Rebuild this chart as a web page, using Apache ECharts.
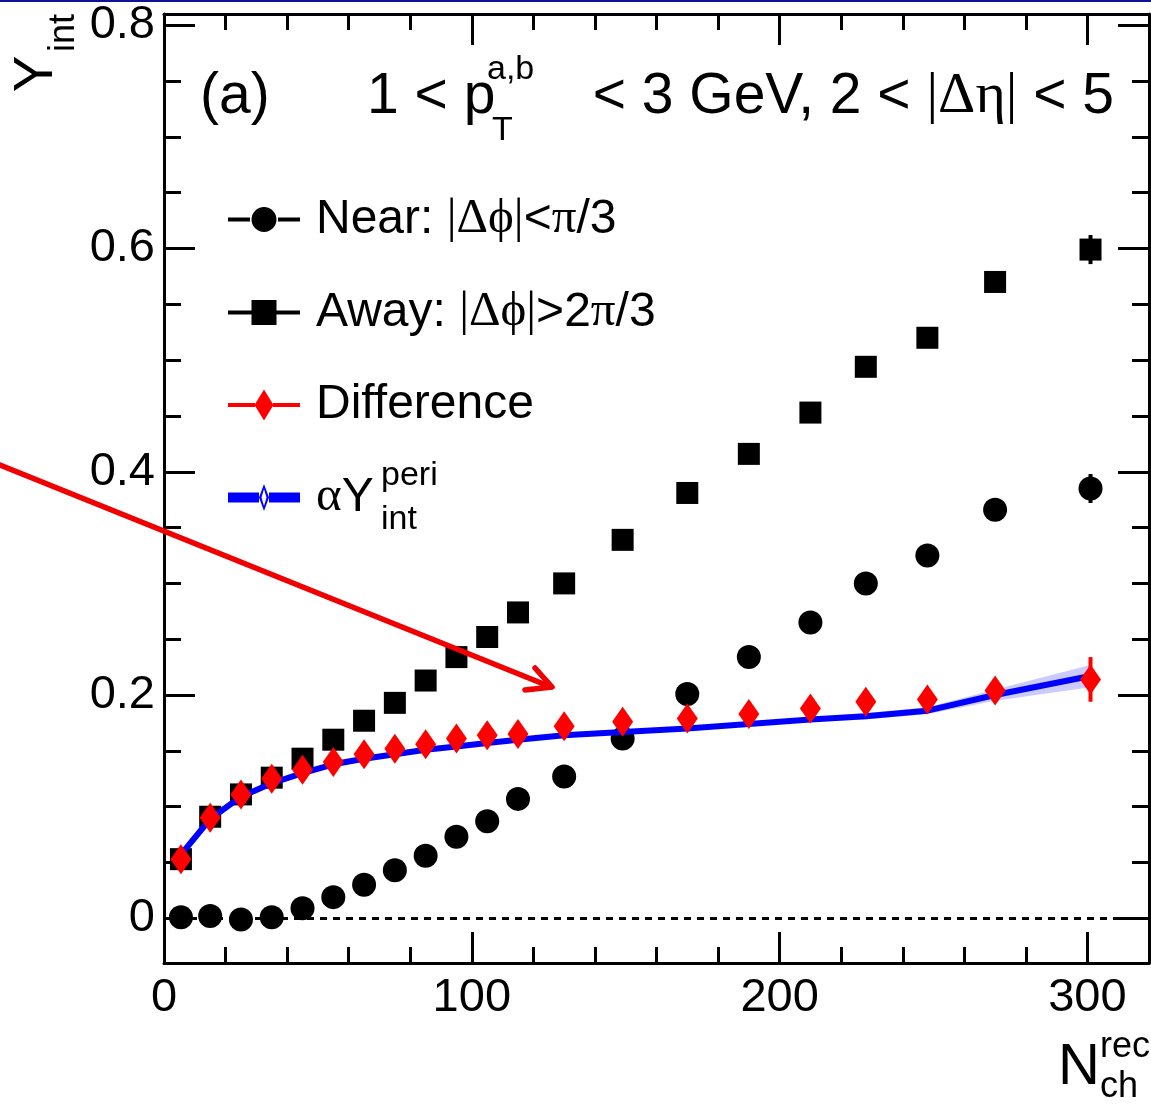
<!DOCTYPE html>
<html>
<head>
<meta charset="utf-8">
<script src="https://cdn.jsdelivr.net/npm/echarts@6/dist/echarts.min.js"></script>
<style>
  html, body { margin: 0; padding: 0; background: #fff; }
  #chart { width: 1151px; height: 1104px; }
</style>
</head>
<body>
<div id="chart"></div>
<script>
// Multiplicity bins (mean N_ch^rec per bin)
const nch = [5.5, 15, 25, 35, 45, 55, 65, 75, 85, 95, 105, 115, 130, 149, 170, 190, 210, 228, 248, 270, 301];

// Integrated yields
const nearYield = [0.001, 0.002, -0.001, 0.001, 0.009, 0.019, 0.030, 0.043, 0.056, 0.073, 0.087, 0.107,
                   0.127, 0.161, 0.201, 0.234, 0.265, 0.300, 0.325, 0.366, 0.385];
const nearErr   = [0.002, 0.002, 0.002, 0.002, 0.002, 0.002, 0.002, 0.002, 0.002, 0.002, 0.002, 0.002,
                   0.002, 0.003, 0.003, 0.003, 0.003, 0.004, 0.004, 0.005, 0.013];
const awayYield = [0.053, 0.091, 0.111, 0.126, 0.143, 0.160, 0.177, 0.193, 0.213, 0.234, 0.252, 0.274,
                   0.300, 0.339, 0.381, 0.416, 0.453, 0.494, 0.520, 0.570, 0.599];
const awayErr   = [0.002, 0.002, 0.002, 0.002, 0.002, 0.002, 0.002, 0.002, 0.002, 0.002, 0.002, 0.002,
                   0.002, 0.003, 0.003, 0.003, 0.003, 0.004, 0.004, 0.005, 0.013];
const diffYield = [0.053, 0.090, 0.111, 0.125, 0.133, 0.140, 0.147, 0.152, 0.156, 0.161, 0.164, 0.165,
                   0.172, 0.176, 0.179, 0.183, 0.188, 0.194, 0.196, 0.204, 0.214];
const diffErr   = [0.003, 0.003, 0.003, 0.003, 0.003, 0.003, 0.003, 0.003, 0.003, 0.003, 0.003, 0.003,
                   0.004, 0.004, 0.005, 0.005, 0.006, 0.007, 0.008, 0.010, 0.020];
// Scaled peripheral yield (alpha * Y_int^peri) and its uncertainty band
const periYield = [0.057, 0.089, 0.109, 0.121, 0.130, 0.138, 0.143, 0.147, 0.151, 0.154, 0.157, 0.160,
                   0.164, 0.167, 0.170, 0.174, 0.178, 0.181, 0.186, 0.200, 0.217];
const periBand  = [0.002, 0.002, 0.002, 0.002, 0.002, 0.002, 0.002, 0.002, 0.002, 0.002, 0.002, 0.002,
                   0.002, 0.002, 0.002, 0.002, 0.002, 0.003, 0.003, 0.005, 0.010];

// Axis ticks
const xTicks = [0, 100, 200, 300];
const yTicks = [0, 0.2, 0.4, 0.6, 0.8];

const SANS = 'Liberation Sans, Arial, Helvetica, sans-serif';
const SERIF = 'Liberation Serif, DejaVu Serif, Times New Roman, serif';

const nameNear = 'Near: |Δϕ|<π/3';
const nameAway = 'Away: |Δϕ|>2π/3';
const nameDiff = 'Difference';
const namePeri = 'αY';

const legendText = {};
legendText[nameNear] = '{t|Near: }{g||Δϕ|}{t|<}{g|π}{t|/3}';
legendText[nameAway] = '{t|Away: }{g||Δϕ|}{t|>2}{g|π}{t|/3}';
legendText[nameDiff] = '{t|Difference}';
legendText[namePeri] = '{g|α}{t|Y}';

// Legend icons: a line segment with the marker in the middle (83 px wide box, text follows it)
const iconCircle = 'path://M0,10.5 L22,10.5 L22,14.5 L0,14.5 Z M50,10.5 L72,10.5 L72,14.5 L50,14.5 Z ' +
  'M48.5,12.5 A12.5,12.5 0 1 1 23.5,12.5 A12.5,12.5 0 1 1 48.5,12.5 Z M83,12.5 Z';
const iconSquare = 'path://M0,10.5 L24,10.5 L24,14.5 L0,14.5 Z M48,10.5 L72,10.5 L72,14.5 L48,14.5 Z ' +
  'M23.5,0 L48.5,0 L48.5,25 L23.5,25 Z M83,12.5 Z';
const iconDiamond = 'path://M0,13.5 L27,13.5 L27,17.5 L0,17.5 Z M45,13.5 L72,13.5 L72,17.5 L45,17.5 Z ' +
  'M36,0 L45.5,15.5 L36,31 L26.5,15.5 Z M83,15.5 Z';
const iconPeri = 'path://M0,10.5 L31,10.5 L31,20.5 L0,20.5 Z M41,10.5 L72,10.5 L72,20.5 L41,20.5 Z ' +
  'M36,2 L41,15.5 L36,29 L31,15.5 Z M36,7 L33.5,15.5 L36,24 L38.5,15.5 Z M83,15.5 Z M83,0 Z M83,31 Z';

function pairs(ys) { return nch.map((x, i) => [x, ys[i]]); }

function errorBars(ys, es, color, width, z) {
  return {
    type: 'custom',
    silent: true,
    z: z,
    data: nch.map((x, i) => [x, ys[i] - es[i], ys[i] + es[i]]),
    encode: { x: 0, y: [1, 2] },
    renderItem: function (params, api) {
      const lo = api.coord([api.value(0), api.value(1)]);
      const hi = api.coord([api.value(0), api.value(2)]);
      return {
        type: 'line',
        shape: { x1: lo[0], y1: lo[1], x2: hi[0], y2: hi[1] },
        style: { stroke: color, lineWidth: width }
      };
    }
  };
}

// Shaded band between consecutive points: one quadrilateral per segment
const bandSegments = nch.slice(0, -1).map((x, i) => [
  x, periYield[i] - periBand[i], periYield[i] + periBand[i],
  nch[i + 1], periYield[i + 1] - periBand[i + 1], periYield[i + 1] + periBand[i + 1]
]);

function axisCommon(extra) {
  return Object.assign({
    type: 'value',
    axisLine: { show: true, onZero: false, lineStyle: { color: '#000', width: 3 } },
    axisTick: { show: true, inside: true, length: 31, lineStyle: { color: '#000', width: 3 } },
    splitLine: { show: false },
    minorSplitLine: { show: false }
  }, extra);
}

const xMinor = { show: true, splitNumber: 5, length: 16, lineStyle: { color: '#000', width: 3 } };
const yMinor = { show: true, splitNumber: 4, length: 17, lineStyle: { color: '#000', width: 3 } };

const xLabel = {
  show: true, fontSize: 47, fontFamily: SANS, color: '#000', margin: 12,
  showMaxLabel: false, showMinLabel: true,
  formatter: v => (xTicks.indexOf(v) >= 0 ? String(v) : '')
};
const yLabel = {
  show: true, fontSize: 47, fontFamily: SANS, color: '#000', margin: 9,
  showMinLabel: false, showMaxLabel: false,
  formatter: v => {
    const k = yTicks.findIndex(t => Math.abs(t - v) < 1e-9);
    return k >= 0 ? (yTicks[k] === 0 ? '0' : yTicks[k].toFixed(1)) : '';
  }
};

function txt(x, y, text, size, family, extra) {
  return Object.assign({
    type: 'text', x: x, y: y, z: 50,
    style: Object.assign({
      text: text, fontSize: size, fontFamily: family, fill: '#000',
      align: 'left', verticalAlign: 'middle', textAlign: 'left', textVerticalAlign: 'middle'
    }, extra && extra.style)
  }, extra && extra.el);
}

const chart = echarts.init(document.getElementById('chart'), null, { renderer: 'canvas' });

chart.setOption({
  animation: false,
  backgroundColor: '#fff',
  grid: { left: 164, right: 2, top: 14, bottom: 141, containLabel: false },
  xAxis: [
    axisCommon({ min: 0, max: 320, interval: 100, position: 'bottom', minorTick: xMinor, axisLabel: xLabel }),
    axisCommon({ min: 0, max: 320, interval: 100, position: 'top', minorTick: xMinor, axisLabel: { show: false } })
  ],
  yAxis: [
    axisCommon({ min: -0.04, max: 0.81, splitNumber: 5, position: 'left', minorTick: yMinor, axisLabel: yLabel }),
    axisCommon({ min: -0.04, max: 0.81, splitNumber: 5, position: 'right', minorTick: yMinor, axisLabel: { show: false } })
  ],
  legend: {
    orient: 'vertical',
    left: 228,
    top: 195,
    padding: 0,
    itemWidth: 83,
    itemHeight: 31,
    itemGap: 44,
    selectedMode: false,
    data: [
      { name: nameNear, icon: iconCircle, itemStyle: { color: '#000', borderWidth: 0 } },
      { name: nameAway, icon: iconSquare, itemStyle: { color: '#000', borderWidth: 0 } },
      { name: nameDiff, icon: iconDiamond, itemStyle: { color: '#ff0000', borderWidth: 0 } },
      { name: namePeri, icon: iconPeri, itemStyle: { color: '#0000ff', borderWidth: 0 } }
    ],
    formatter: n => legendText[n],
    textStyle: {
      fontSize: 48, fontFamily: SANS, color: '#000', lineHeight: 48,
      rich: {
        t: { fontSize: 48, fontFamily: SANS, color: '#000', lineHeight: 48 },
        g: { fontSize: 49, fontFamily: SERIF, color: '#000', lineHeight: 48 }
      }
    }
  },
  series: [
    // uncertainty band of the scaled peripheral yield
    {
      type: 'custom', name: 'band', silent: true, z: 1,
      data: bandSegments,
      encode: { x: [0, 3], y: [1, 2, 4, 5] },
      renderItem: function (params, api) {
        const a = api.coord([api.value(0), api.value(1)]);
        const b = api.coord([api.value(0), api.value(2)]);
        const c = api.coord([api.value(3), api.value(5)]);
        const d = api.coord([api.value(3), api.value(4)]);
        return {
          type: 'polygon',
          shape: { points: [a, b, c, d] },
          style: { fill: 'rgba(140,140,255,0.45)', stroke: null }
        };
      }
    },
    {
      type: 'scatter', name: nameNear, symbol: 'circle', symbolSize: 24, z: 3,
      itemStyle: { color: '#000', opacity: 1 },
      data: pairs(nearYield),
      markLine: {
        silent: true, symbol: 'none', label: { show: false },
        lineStyle: { color: '#000', type: [7, 6], width: 3 },
        data: [{ yAxis: 0 }]
      }
    },
    errorBars(nearYield, nearErr, '#000', 4, 3),
    {
      type: 'scatter', name: nameAway, symbol: 'rect', symbolSize: 22, z: 3,
      itemStyle: { color: '#000', opacity: 1 },
      data: pairs(awayYield)
    },
    errorBars(awayYield, awayErr, '#000', 4, 3),
    {
      type: 'line', name: namePeri, symbol: 'none', z: 4, silent: true,
      lineStyle: { color: '#0000ff', width: 6 },
      itemStyle: { color: '#0000ff' },
      data: pairs(periYield)
    },
    errorBars(diffYield, diffErr, '#ff0000', 4, 5),
    {
      type: 'scatter', name: nameDiff, symbol: 'diamond', symbolSize: [21, 30], z: 6,
      itemStyle: { color: '#ff0000', opacity: 1 },
      data: pairs(diffYield)
    }
  ],
  graphic: [
    // thin rule along the top edge
    { type: 'rect', shape: { x: 0, y: 0, width: 1151, height: 2 }, style: { fill: '#10109a' }, z: 50 },
    // panel annotation
    txt(200, 97, '(a)', 57, SANS),
    txt(367, 97, '1 < p', 57, SANS),
    txt(487, 70, 'a,b', 34, SANS),
    txt(492, 131, 'T', 34, SANS),
    txt(1114, 97, '{t|< 3 GeV, 2 < }{g||Δη|}{t| < 5}', 57, SANS, {
      style: {
        align: 'right', textAlign: 'right',
        rich: {
          t: { fontSize: 57, fontFamily: SANS, fill: '#000', color: '#000' },
          g: { fontSize: 58, fontFamily: SERIF, fill: '#000', color: '#000' }
        }
      }
    }),
    // superscript / subscript of the last legend entry
    txt(381, 476, 'peri', 34, SANS),
    txt(381, 520, 'int', 34, SANS),
    // axis titles
    txt(37, 74, 'Y', 55, SANS, { el: { rotation: Math.PI / 2 }, style: { align: 'center', textAlign: 'center' } }),
    txt(64, 33, 'int', 36, SANS, { el: { rotation: Math.PI / 2 }, style: { align: 'center', textAlign: 'center' } }),
    txt(1079, 1068, 'N', 58, SANS, { style: { align: 'center', textAlign: 'center' } }),
    txt(1100, 1047, 'rec', 36, SANS),
    txt(1100, 1087, 'ch', 36, SANS),
    // red arrow pointing at the plateau
    {
      type: 'line', z: 60, silent: true,
      shape: { x1: 0, y1: 465, x2: 551, y2: 687 },
      style: { stroke: '#f00000', lineWidth: 5.5, lineCap: 'round' }
    },
    {
      type: 'polyline', z: 60, silent: true,
      shape: { points: [[535, 668], [552, 687], [525, 690]] },
      style: { stroke: '#f00000', lineWidth: 5.5, fill: null, lineCap: 'round', lineJoin: 'round' }
    }
  ]
});
</script>
</body>
</html>
